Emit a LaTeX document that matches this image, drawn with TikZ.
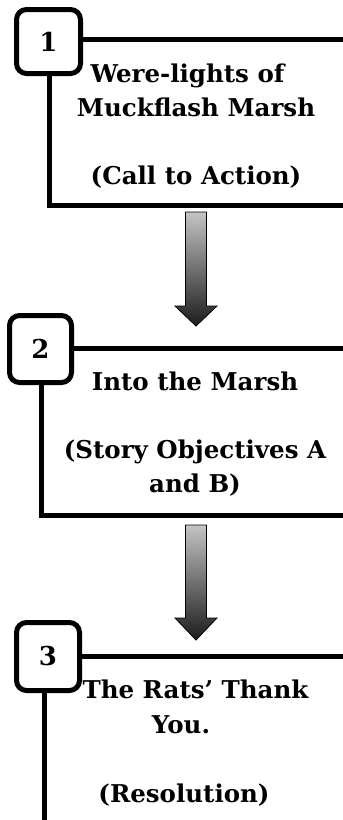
\documentclass[tikz,border=0pt]{standalone}
\usepackage{fontspec}
\setmainfont{DejaVu Serif}
\definecolor{arrowtop}{HTML}{C4C4C4}
\definecolor{arrowbot}{HTML}{1C1C1C}
\begin{document}
\begin{tikzpicture}[x=1pt,y=-1pt,
  frame/.style={line width=5pt},
  numbox/.style={draw, line width=5pt, rounded corners=10pt, fill=white,
    font=\fontsize{26}{30}\selectfont\bfseries, inner sep=0pt},
  title/.style={anchor=base, inner sep=0pt,
    font=\fontsize{24.5}{34}\selectfont\bfseries},
  blockarrow/.style={draw=black, line width=0.8pt, top color=arrowtop, bottom color=arrowbot}]
\useasboundingbox (0,0) rectangle (343,820);
\clip (0,0) rectangle (343,820);
% box 1
\draw[frame] (49.5,39) rectangle (380,205);
\node[numbox, minimum width=64pt, minimum height=64pt] (n1) at (48.5,41.5) {1};
\node[title] (t1) at (196,82) {\parbox[t]{290pt}{\centering Were-lights of\rule{17pt}{0pt}\\Muckflash Marsh\\[34pt](Call to Action)}};
% arrow 1
\path[blockarrow] (185.5,212) -- (206.5,212) -- (206.5,306) -- (217,306) -- (196,326) -- (175,306) -- (185.5,306) -- cycle;
% box 2
\draw[frame] (41.7,348) rectangle (380,515);
\node[numbox, minimum width=62pt, minimum height=67pt] (n2) at (40.5,349) {2};
\node[title] (t2) at (195,390) {\parbox[t]{290pt}{\centering Into the Marsh\\[34pt](Story Objectives A\\and B)}};
% arrow 2
\path[blockarrow] (185.5,525) -- (206.5,525) -- (206.5,618) -- (217,618) -- (196,640) -- (175,618) -- (185.5,618) -- cycle;
% box 3
\draw[frame] (44,656.7) rectangle (380,900);
\node[numbox, minimum width=63pt, minimum height=68pt] (n3) at (48,656.5) {3};
\node[title] (t3) at (190,698) {\parbox[t]{290pt}{\centering\baselineskip=35pt \rule{11pt}{0pt}The Rats’ Thank\\You.\rule{18pt}{0pt}\\[34pt](Resolution)\rule{12pt}{0pt}}};
\end{tikzpicture}
\end{document}
